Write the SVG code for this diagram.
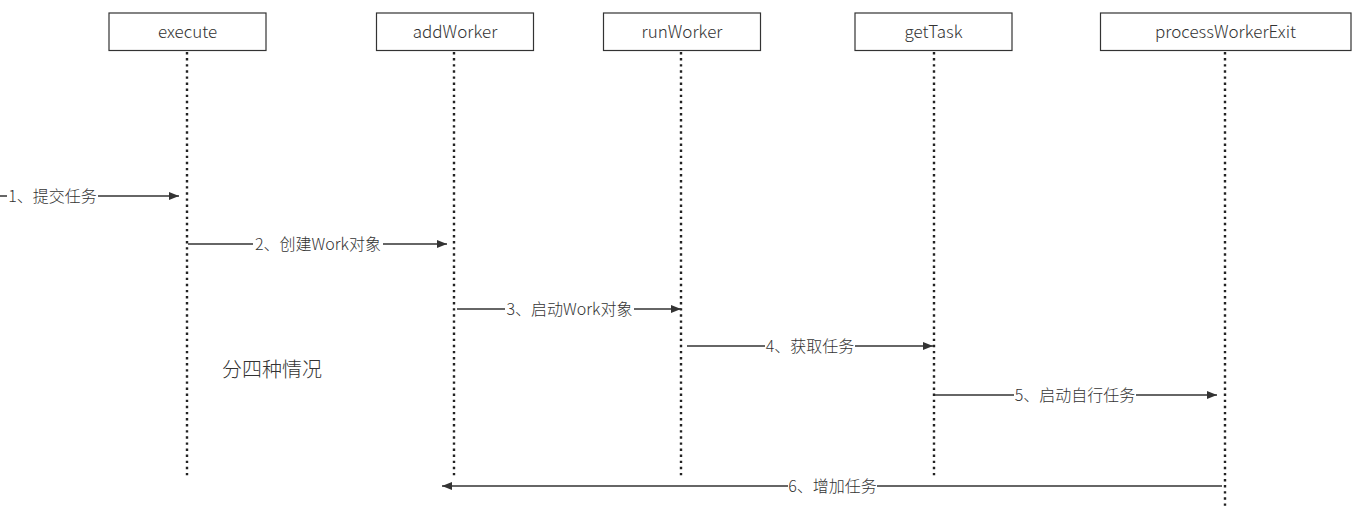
<svg xmlns="http://www.w3.org/2000/svg" width="1365" height="530" viewBox="0 0 1365 530">
<style>
.box{fill:#fff;stroke:#333;stroke-width:1.2}
.name{font-family:"Noto Sans CJK SC","Liberation Sans",sans-serif;font-size:17px;font-weight:300;fill:#333;text-anchor:middle}
.life{stroke:#222;stroke-width:2.4;stroke-dasharray:2.4 3.7;fill:none}
.msg{stroke:#333;stroke-width:1.3;fill:none}
.lbl{font-family:"Noto Sans CJK SC","Liberation Sans",sans-serif;font-size:16px;font-weight:300;fill:#333;text-anchor:middle}
.lblbg{fill:#fff}
.note{font-family:"Noto Sans CJK SC","Liberation Sans",sans-serif;font-size:20px;font-weight:300;fill:#333}
</style>
<defs>
<marker id="arr" viewBox="0 0 10 8" refX="10" refY="4" markerWidth="10" markerHeight="8" markerUnits="userSpaceOnUse" orient="auto">
<path d="M0,0 L10,4 L0,8 Z" fill="#333"/>
</marker>
</defs>
<rect width="1365" height="530" fill="#fff"/>
<g id="lifelines">
<line class="life" x1="187" y1="52" x2="187" y2="477"/>
<line class="life" x1="454" y1="52" x2="454" y2="477"/>
<line class="life" x1="681" y1="52" x2="681" y2="477"/>
<line class="life" x1="934" y1="52" x2="934" y2="477"/>
<line class="life" x1="1225" y1="52" x2="1225" y2="508"/>
</g>
<g id="node-execute">
<rect class="box" x="109" y="13" width="157" height="37.5"/>
<text class="name" x="187.5" y="37.5">execute</text>
</g>
<g id="node-addWorker">
<rect class="box" x="376.5" y="13" width="157" height="37.5"/>
<text class="name" x="455" y="37.5">addWorker</text>
</g>
<g id="node-runWorker">
<rect class="box" x="603.5" y="13" width="157" height="37.5"/>
<text class="name" x="682" y="37.5">runWorker</text>
</g>
<g id="node-getTask">
<rect class="box" x="855" y="13" width="157" height="37.5"/>
<text class="name" x="933.5" y="37.5">getTask</text>
</g>
<g id="node-processWorkerExit">
<rect class="box" x="1100.5" y="13" width="250.5" height="37.5"/>
<text class="name" x="1225.5" y="37.5">processWorkerExit</text>
</g>
<g id="connectors">
<line class="msg" x1="-76" y1="196" x2="179" y2="196" marker-end="url(#arr)"/>
<rect class="lblbg" x="7" y="186" width="91" height="20"/>
<text class="lbl" x="52.5" y="202">1、提交任务</text>

<line class="msg" x1="188" y1="244" x2="447" y2="244" marker-end="url(#arr)"/>
<rect class="lblbg" x="253" y="234" width="130" height="20"/>
<text class="lbl" x="318" y="250">2、创建Work对象</text>

<line class="msg" x1="457" y1="309" x2="681" y2="309" marker-end="url(#arr)"/>
<rect class="lblbg" x="505" y="299" width="129" height="20"/>
<text class="lbl" x="569.5" y="315">3、启动Work对象</text>

<line class="msg" x1="687" y1="346" x2="933" y2="346" marker-end="url(#arr)"/>
<rect class="lblbg" x="765" y="336" width="90" height="20"/>
<text class="lbl" x="810" y="352">4、获取任务</text>

<line class="msg" x1="935" y1="395" x2="1217" y2="395" marker-end="url(#arr)"/>
<rect class="lblbg" x="1014" y="385" width="122" height="20"/>
<text class="lbl" x="1075" y="401">5、启动自行任务</text>

<line class="msg" x1="1222" y1="486" x2="442" y2="486" marker-end="url(#arr)"/>
<rect class="lblbg" x="788" y="476" width="89" height="20"/>
<text class="lbl" x="832.5" y="492">6、增加任务</text>
</g>
<g id="note">
<text class="note" x="222" y="377">分四种情况</text>
</g>
</svg>
